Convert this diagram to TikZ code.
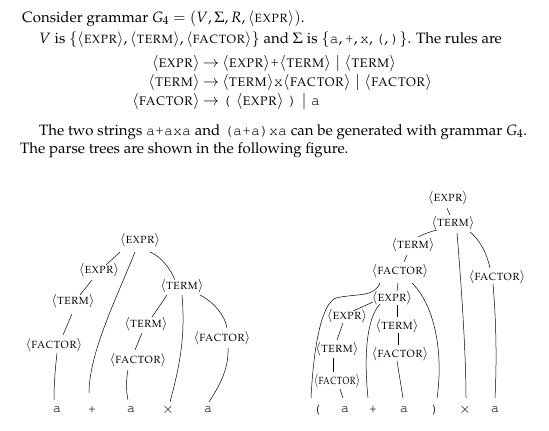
\documentclass[tikz,border=0pt]{standalone}
\usepackage[T1]{fontenc}
\usepackage{mathpazo}
\usepackage{courier}
\usetikzlibrary{calc}
\newcommand{\nterm}[1]{\ensuremath{\langle\textsc{#1}\rangle}}
\tikzset{
 txt/.style={anchor=base west, inner sep=0pt, font=\fontsize{15}{18}\selectfont},
 rule/.style={anchor=base west, inner sep=0pt, font=\fontsize{15.5}{18}\selectfont},
 nt/.style={inner sep=0pt, font=\fontsize{13}{14}\selectfont},
 ntc/.style={inner sep=0pt, font=\fontsize{13}{14}\selectfont, xscale=0.82},
 leaf/.style={inner sep=0pt, font=\fontsize{14}{14}\selectfont\ttfamily},
 tedge/.style={line width=0.5pt},
}
\begin{document}
\begin{tikzpicture}[x=1pt,y=-1pt]
\useasboundingbox (0,0) rectangle (549,431);
% text
\node[txt] (l1) at (22,22) {Consider grammar $G_4 = (V, \Sigma, R, \nterm{expr})$.};
\node[txt] (l2) at (39,43) {$V$ is $\{\nterm{expr}, \nterm{term}, \nterm{factor}\}$ and $\Sigma$ is $\{\texttt{a}, \texttt{+}, \texttt{x}, \texttt{(}, \texttt{)}\}$. The rules are};
\node[rule, anchor=base east] (r1l) at (200,67) {\nterm{expr}};
\node[rule, anchor=base] (r1a) at (211,67) {$\rightarrow$};
\node[rule] (r1r) at (222,67) {\nterm{expr}\texttt{+}\nterm{term}\;$\mid$\;\nterm{term}};
\node[rule, anchor=base east] (r2l) at (200,86) {\nterm{term}};
\node[rule, anchor=base] (r2a) at (211,86) {$\rightarrow$};
\node[rule] (r2r) at (222,86) {\nterm{term}\texttt{x}\nterm{factor}\;$\mid$\;\nterm{factor}};
\node[rule, anchor=base east] (r3l) at (200,105) {\nterm{factor}};
\node[rule, anchor=base] (r3a) at (211,105) {$\rightarrow$};
\node[rule] (r3r) at (222,105) {\texttt{(}\;\nterm{expr}\;\texttt{)}\;$\mid$\;\texttt{a}};
\node[txt] (l4) at (39,135) {The two strings \texttt{a+axa} and \texttt{(a+a)xa} can be generated with grammar $G_4$.};
\node[txt] (l5) at (20,153) {The parse trees are shown in the following figure.};

% left tree
\node[nt] (LE0) at (140,240) {\nterm{expr}};
\node[nt] (LE1) at (99,270) {\nterm{expr}};
\node[nt] (LT1) at (73,301) {\nterm{term}};
\node[nt] (LF1) at (54,345) {\nterm{factor}};
\node[nt] (LT2) at (182,286) {\nterm{term}};
\node[nt] (LT3) at (146,324) {\nterm{term}};
\node[nt] (LF3) at (138,360) {\nterm{factor}};
\node[nt] (LF2) at (222,338) {\nterm{factor}};
\node[leaf] (la1) at (57,410) {a};
\node[leaf] (lp) at (92,410) {+};
\node[leaf] (la2) at (131,410) {a};
\node[leaf] (lx) at (168,410) {$\times$};
\node[leaf] (la3) at (208,410) {a};

\draw[tedge] ([shift={(-20,12)}]LE0.center) -- ([shift={(7,-5)}]LE1.center);
\draw[tedge] ([shift={(-5,12)}]LE0.center) .. controls +(-18,45) and +(0,-40) .. ([shift={(-3,-17)}]lp.center);
\draw[tedge] ([shift={(10,12)}]LE0.center) .. controls +(12,5) and +(-4,-10) .. ([shift={(-7,-6)}]LT2.center);
\draw[tedge] ([shift={(-7,10)}]LE1.center) -- ([shift={(7,-6)}]LT1.center);
\draw[tedge] ([shift={(-1,13)}]LT1.center) -- ([shift={(9,-10)}]LF1.center);
\draw[tedge] ([shift={(3,8)}]LF1.center) .. controls +(-2,18) and +(0,-15) .. ([shift={(-3,-10)}]la1.center);
\draw[tedge] ([shift={(-15,9)}]LT2.center) -- ([shift={(6,-7)}]LT3.center);
\draw[tedge] ([shift={(0,9)}]LT2.center) .. controls +(4,45) and +(8,-30) .. ([shift={(2,-8)}]lx.center);
\draw[tedge] ([shift={(18,9)}]LT2.center) .. controls +(15,8) and +(-2,-12) .. ([shift={(5,-10)}]LF2.center);
\draw[tedge] ([shift={(-4,9)}]LT3.center) -- ([shift={(-3,-10)}]LF3.center);
\draw[tedge] ([shift={(-10,10)}]LF3.center) .. controls +(-2,10) and +(-2,-10) .. ([shift={(-3,-10)}]la2.center);
\draw[tedge] ([shift={(6,10)}]LF2.center) .. controls +(1,22) and +(9,-14) .. ([shift={(1,-8)}]la3.center);

% right tree
\node[nt] (RE0) at (448,198) {\nterm{expr}};
\node[nt] (RT0) at (453,223) {\nterm{term}};
\node[nt] (RT1) at (413,245) {\nterm{term}};
\node[nt] (RF0) at (400,271) {\nterm{factor}};
\node[nt] (RF1) at (497,277) {\nterm{factor}};
\node[nt] (RE1) at (392,298) {\nterm{expr}};
\node[nt] (RE2) at (347,316) {\nterm{expr}};
\node[nt] (RT2) at (397,326) {\nterm{term}};
\node[nt] (RT3) at (337,349) {\nterm{term}};
\node[nt] (RF2) at (400,354) {\nterm{factor}};
\node[ntc] (RF3) at (337,381) {\nterm{factor}};
\node[leaf] (ro) at (317,410) {(};
\node[leaf] (ra1) at (345,410) {a};
\node[leaf] (rp) at (373,410) {+};
\node[leaf] (ra2) at (404,410) {a};
\node[leaf] (rc) at (435,410) {)};
\node[leaf] (rx) at (465,410) {$\times$};
\node[leaf] (ra3) at (495,410) {a};

\draw[tedge] ([shift={(-1,10)}]RE0.center) -- ([shift={(-3,-8)}]RT0.center);
\draw[tedge] ([shift={(-16,7)}]RT0.center) .. controls +(-8,2) and +(6,-3) .. ([shift={(5,-8)}]RT1.center);
\draw[tedge] ([shift={(4,10)}]RT0.center) .. controls +(5,60) and +(0,-40) .. ([shift={(1,-12)}]rx.center);
\draw[tedge] ([shift={(17,9)}]RT0.center) .. controls +(10,8) and +(-3,-14) .. ([shift={(-7,-9)}]RF1.center);
\draw[tedge] ([shift={(-6,10)}]RT1.center) -- ([shift={(4,-9)}]RF0.center);
\draw[tedge] ([shift={(-20,12)}]RF0.center) .. controls +(-6,14) and +(22,-4) .. ($(RF0.center)!0.5!(RE2.center)+(-36,4)$) .. controls +(-18,4) and +(2,-40) .. ([shift={(-6,-12)}]ro.center);
\draw[tedge] ([shift={(-2,12)}]RF0.center) -- ([shift={(5,-7)}]RE1.center);
\draw[tedge] ([shift={(12,12)}]RF0.center) .. controls +(25,25) and +(6,-40) .. ([shift={(2,-12)}]rc.center);
\draw[tedge] ([shift={(-19,4)}]RE1.center) -- ([shift={(6,-5)}]RE2.center);
\draw[tedge] ([shift={(-12,6)}]RE1.center) .. controls +(-14,15) and +(-4,-40) .. ([shift={(-5,-12)}]rp.center);
\draw[tedge] ([shift={(5,7)}]RE1.center) -- ([shift={(0,-9)}]RT2.center);
\draw[tedge] ([shift={(-4,7)}]RE2.center) -- ([shift={(0,-9)}]RT3.center);
\draw[tedge] ([shift={(1,7)}]RT2.center) -- ([shift={(-2,-9)}]RF2.center);
\draw[tedge] ([shift={(-4,9)}]RT3.center) -- ([shift={(-4,-9)}]RF3.center);
\draw[tedge] ([shift={(3,8)}]RF3.center) -- ([shift={(-2,-12)}]ra1.center);
\draw[tedge] ([shift={(-3,7)}]RF2.center) -- ([shift={(-1,-12)}]ra2.center);
\draw[tedge] ([shift={(-4,7)}]RF1.center) .. controls +(3,35) and +(2,-40) .. ([shift={(0,-12)}]ra3.center);
\end{tikzpicture}
\end{document}
